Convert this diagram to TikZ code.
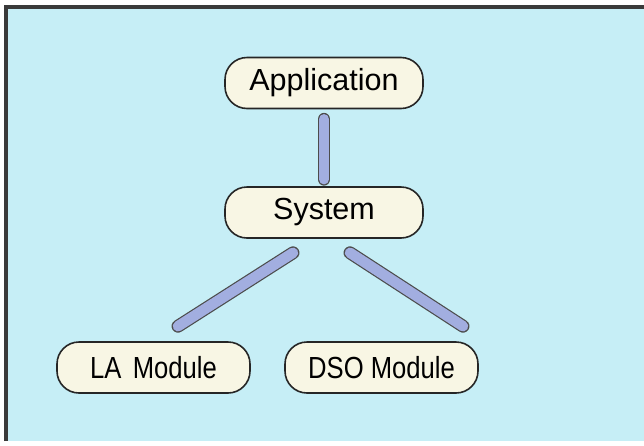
\documentclass[tikz,border=0pt]{standalone}
\usepackage{fontspec}
\setmainfont{Liberation Sans}
\usetikzlibrary{calc}
\definecolor{bgcyan}{HTML}{C6EEF6}
\definecolor{cream}{HTML}{F8F6E4}
\definecolor{connblue}{HTML}{A2AEE0}
\definecolor{framegray}{HTML}{3A3A3A}
\tikzset{
  pill/.style={draw=black!85, line width=1.6pt, fill=cream, rounded corners=22pt,
    minimum height=51pt, inner sep=0pt, font=\fontsize{30.5}{30}\selectfont},
  conn/.style={draw=black!70, line width=1.2pt, double=connblue, double distance=10.5pt, line cap=round},
}
\begin{document}
\begin{tikzpicture}[x=1pt,y=-1pt]
\useasboundingbox (0,0) rectangle (644,445);
\fill[white] (0,0) rectangle (644,445);
\fill[bgcyan] (6,7) rectangle (644,441);
\draw[framegray, line width=3.5pt] (6,441) -- (6,7) -- (644,7);

\node[pill, minimum width=198pt] (app) at (324,83) {Application};
\node[pill, minimum width=198pt] (sys) at (324,212.5) {System};
\node[pill, minimum width=193pt] (la) at (153.5,367.5) {\scalebox{0.84}[1]{LA\hspace{0.45em}Module}};
\node[pill, minimum width=193pt] (dso) at (381.5,367.5) {\scalebox{0.84}[1]{DSO Module}};

\draw[conn] ($(app.south)+(0,10)$) -- ($(sys.north)+(0,-7)$);
\draw[conn] ($(sys.south)+(-31,14)$) -- ($(la.north)+(24.5,-15)$);
\draw[conn] ($(sys.south)+(26,14)$) -- ($(dso.north)+(81.5,-15)$);
\end{tikzpicture}
\end{document}
